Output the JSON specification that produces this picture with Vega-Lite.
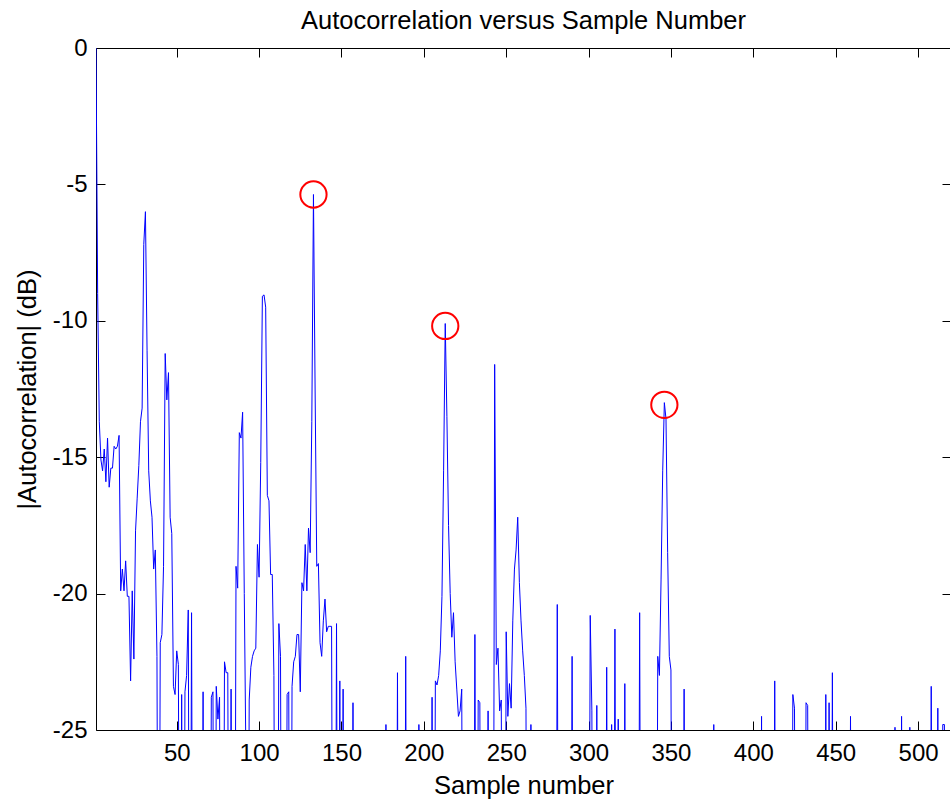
{
"$schema": "https://vega.github.io/schema/vega-lite/v6.json",
"width": 855, "height": 682,
"autosize": "none",
"padding": {"left": 96, "top": 48, "right": 0, "bottom": 71},
"background": "white",
"title": {"text": "Autocorrelation versus Sample Number", "fontSize": 25.5, "font": "Liberation Sans", "fontWeight": "normal", "color": "#000000", "offset": 2},
"config": {"view": {"stroke": null}},
"datasets": {
"series": [
{"n":1,"db":0},{"n":2,"db":-9},{"n":3,"db":-13.7},{"n":4,"db":-15.1},{"n":5,"db":-15.5},{"n":6,"db":-14.7},{"n":7,"db":-15.9},{"n":8,"db":-14.3},{"n":9,"db":-16.1},{"n":10,"db":-15.4},
{"n":11,"db":-15.4},{"n":12,"db":-14.6},{"n":13,"db":-14.7},{"n":14,"db":-14.6},{"n":15,"db":-14.2},{"n":16,"db":-19.9},{"n":17,"db":-19.1},{"n":18,"db":-19.9},{"n":19,"db":-18.8},{"n":20,"db":-20.1},
{"n":21,"db":-20.1},{"n":22,"db":-23.2},{"n":23,"db":-19.9},{"n":24,"db":-22.4},{"n":25,"db":-17.7},{"n":26,"db":-16.5},{"n":27,"db":-15.3},{"n":28,"db":-13.7},{"n":29,"db":-13.2},{"n":30,"db":-7.2},
{"n":31,"db":-6},{"n":32,"db":-11.1},{"n":33,"db":-15.5},{"n":34,"db":-16.6},{"n":35,"db":-17.2},{"n":36,"db":-19.1},{"n":37,"db":-18.4},{"n":38,"db":-22.3},{"n":39,"db":-40},{"n":40,"db":-21.8},
{"n":41,"db":-21.5},{"n":42,"db":-19},{"n":43,"db":-11.2},{"n":44,"db":-12.9},{"n":45,"db":-11.9},{"n":46,"db":-17.2},{"n":47,"db":-17.8},{"n":48,"db":-23.4},{"n":49,"db":-23.7},{"n":50,"db":-22.1},
{"n":51,"db":-22.6},{"n":52,"db":-40},{"n":53,"db":-23.7},{"n":54,"db":-40},{"n":55,"db":-23.6},{"n":56,"db":-23},{"n":57,"db":-20.6},{"n":58,"db":-40},{"n":59,"db":-20.7},{"n":60,"db":-40},
{"n":61,"db":-40},{"n":62,"db":-40},{"n":63,"db":-40},{"n":64,"db":-40},{"n":65,"db":-40},{"n":66,"db":-23.6},{"n":67,"db":-40},{"n":68,"db":-40},{"n":69,"db":-40},{"n":70,"db":-40},
{"n":71,"db":-23.8},{"n":72,"db":-23.6},{"n":73,"db":-40},{"n":74,"db":-23.4},{"n":75,"db":-24.6},{"n":76,"db":-23.8},{"n":77,"db":-40},{"n":78,"db":-40},{"n":79,"db":-22.5},{"n":80,"db":-22.9},
{"n":81,"db":-22.9},{"n":82,"db":-40},{"n":83,"db":-23.5},{"n":84,"db":-40},{"n":85,"db":-40},{"n":86,"db":-19},{"n":87,"db":-19.8},{"n":88,"db":-14.1},{"n":89,"db":-14.3},{"n":90,"db":-13.35},
{"n":91,"db":-20},{"n":92,"db":-26},{"n":93,"db":-40},{"n":94,"db":-23.9},{"n":95,"db":-22.7},{"n":96,"db":-22.3},{"n":97,"db":-22.1},{"n":98,"db":-22},{"n":99,"db":-18.2},{"n":100,"db":-19.4},
{"n":101,"db":-15.2},{"n":102,"db":-9.1},{"n":103,"db":-9.05},{"n":104,"db":-9.5},{"n":105,"db":-16.4},{"n":106,"db":-16.6},{"n":107,"db":-19.3},{"n":108,"db":-19.3},{"n":109,"db":-23},{"n":110,"db":-40},
{"n":111,"db":-40},{"n":112,"db":-21.1},{"n":113,"db":-22.3},{"n":114,"db":-40},{"n":115,"db":-40},{"n":116,"db":-40},{"n":117,"db":-23.7},{"n":118,"db":-23.6},{"n":119,"db":-40},{"n":120,"db":-23.4},
{"n":121,"db":-22.5},{"n":122,"db":-22.3},{"n":123,"db":-21.5},{"n":124,"db":-21.5},{"n":125,"db":-23.6},{"n":126,"db":-19.6},{"n":127,"db":-19.9},{"n":128,"db":-18.2},{"n":129,"db":-19.9},{"n":130,"db":-17.6},
{"n":131,"db":-18.5},{"n":132,"db":-13.7},{"n":133,"db":-5.37},{"n":134,"db":-12.5},{"n":135,"db":-19},{"n":136,"db":-18.9},{"n":137,"db":-21.8},{"n":138,"db":-22.3},{"n":139,"db":-21},{"n":140,"db":-20.2},
{"n":141,"db":-21.4},{"n":142,"db":-21.2},{"n":143,"db":-21.2},{"n":144,"db":-21.2},{"n":145,"db":-40},{"n":146,"db":-40},{"n":147,"db":-21.1},{"n":148,"db":-40},{"n":149,"db":-23.2},{"n":150,"db":-40},
{"n":151,"db":-23.5},{"n":152,"db":-40},{"n":153,"db":-40},{"n":154,"db":-40},{"n":155,"db":-40},{"n":156,"db":-40},{"n":157,"db":-24},{"n":158,"db":-40},{"n":159,"db":-40},{"n":160,"db":-40},
{"n":161,"db":-40},{"n":162,"db":-40},{"n":163,"db":-40},{"n":164,"db":-40},{"n":165,"db":-40},{"n":166,"db":-40},{"n":167,"db":-40},{"n":168,"db":-40},{"n":169,"db":-40},{"n":170,"db":-40},
{"n":171,"db":-40},{"n":172,"db":-40},{"n":173,"db":-40},{"n":174,"db":-40},{"n":175,"db":-40},{"n":176,"db":-40},{"n":177,"db":-24.8},{"n":178,"db":-40},{"n":179,"db":-40},{"n":180,"db":-40},
{"n":181,"db":-40},{"n":182,"db":-40},{"n":183,"db":-40},{"n":184,"db":-22.9},{"n":185,"db":-40},{"n":186,"db":-40},{"n":187,"db":-40},{"n":188,"db":-40},{"n":189,"db":-22.3},{"n":190,"db":-40},
{"n":191,"db":-40},{"n":192,"db":-40},{"n":193,"db":-40},{"n":194,"db":-40},{"n":195,"db":-40},{"n":196,"db":-40},{"n":197,"db":-24.8},{"n":198,"db":-40},{"n":199,"db":-40},{"n":200,"db":-40},
{"n":201,"db":-40},{"n":202,"db":-40},{"n":203,"db":-40},{"n":204,"db":-40},{"n":205,"db":-23.8},{"n":206,"db":-40},{"n":207,"db":-23.2},{"n":208,"db":-23.35},{"n":209,"db":-23},{"n":210,"db":-22.1},
{"n":211,"db":-20.1},{"n":212,"db":-15.5},{"n":213,"db":-10.1},{"n":214,"db":-13.5},{"n":215,"db":-17.5},{"n":216,"db":-20},{"n":217,"db":-21.6},{"n":218,"db":-20.7},{"n":219,"db":-22.5},{"n":220,"db":-23.5},
{"n":221,"db":-24.5},{"n":222,"db":-24.3},{"n":223,"db":-23.5},{"n":224,"db":-40},{"n":225,"db":-40},{"n":226,"db":-40},{"n":227,"db":-40},{"n":228,"db":-40},{"n":229,"db":-40},{"n":230,"db":-40},
{"n":231,"db":-21.5},{"n":232,"db":-40},{"n":233,"db":-23.9},{"n":234,"db":-24},{"n":235,"db":-40},{"n":236,"db":-40},{"n":237,"db":-40},{"n":238,"db":-40},{"n":239,"db":-24.3},{"n":240,"db":-40},
{"n":241,"db":-40},{"n":242,"db":-40},{"n":243,"db":-11.6},{"n":244,"db":-22.6},{"n":245,"db":-22},{"n":246,"db":-24.3},{"n":247,"db":-23.9},{"n":248,"db":-40},{"n":249,"db":-40},{"n":250,"db":-21.4},
{"n":251,"db":-24.5},{"n":252,"db":-23.3},{"n":253,"db":-24.2},{"n":254,"db":-21},{"n":255,"db":-19.1},{"n":256,"db":-18.4},{"n":257,"db":-17.2},{"n":258,"db":-19.6},{"n":259,"db":-21},{"n":260,"db":-22.1},
{"n":261,"db":-23},{"n":262,"db":-24.2},{"n":263,"db":-40},{"n":264,"db":-40},{"n":265,"db":-24.8},{"n":266,"db":-40},{"n":267,"db":-40},{"n":268,"db":-40},{"n":269,"db":-40},{"n":270,"db":-40},
{"n":271,"db":-40},{"n":272,"db":-40},{"n":273,"db":-40},{"n":274,"db":-40},{"n":275,"db":-40},{"n":276,"db":-40},{"n":277,"db":-40},{"n":278,"db":-40},{"n":279,"db":-40},{"n":280,"db":-40},
{"n":281,"db":-20.4},{"n":282,"db":-40},{"n":283,"db":-40},{"n":284,"db":-40},{"n":285,"db":-40},{"n":286,"db":-40},{"n":287,"db":-40},{"n":288,"db":-40},{"n":289,"db":-40},{"n":290,"db":-22.3},
{"n":291,"db":-40},{"n":292,"db":-40},{"n":293,"db":-40},{"n":294,"db":-40},{"n":295,"db":-40},{"n":296,"db":-40},{"n":297,"db":-40},{"n":298,"db":-40},{"n":299,"db":-40},{"n":300,"db":-40},
{"n":301,"db":-20.8},{"n":302,"db":-24.3},{"n":303,"db":-40},{"n":304,"db":-40},{"n":305,"db":-24.1},{"n":306,"db":-40},{"n":307,"db":-40},{"n":308,"db":-40},{"n":309,"db":-40},{"n":310,"db":-40},
{"n":311,"db":-22.7},{"n":312,"db":-40},{"n":313,"db":-40},{"n":314,"db":-24.8},{"n":315,"db":-40},{"n":316,"db":-21.3},{"n":317,"db":-40},{"n":318,"db":-24.6},{"n":319,"db":-40},{"n":320,"db":-40},
{"n":321,"db":-40},{"n":322,"db":-23.3},{"n":323,"db":-40},{"n":324,"db":-40},{"n":325,"db":-40},{"n":326,"db":-40},{"n":327,"db":-40},{"n":328,"db":-40},{"n":329,"db":-40},{"n":330,"db":-40},
{"n":331,"db":-20.7},{"n":332,"db":-40},{"n":333,"db":-40},{"n":334,"db":-40},{"n":335,"db":-40},{"n":336,"db":-40},{"n":337,"db":-40},{"n":338,"db":-40},{"n":339,"db":-40},{"n":340,"db":-40},
{"n":341,"db":-40},{"n":342,"db":-22.3},{"n":343,"db":-23},{"n":344,"db":-19.5},{"n":345,"db":-15.5},{"n":346,"db":-13},{"n":347,"db":-13.6},{"n":348,"db":-18.5},{"n":349,"db":-22.3},{"n":350,"db":-22.8},
{"n":351,"db":-40},{"n":352,"db":-40},{"n":353,"db":-40},{"n":354,"db":-40},{"n":355,"db":-40},{"n":356,"db":-40},{"n":357,"db":-40},{"n":358,"db":-23.5},{"n":359,"db":-40},{"n":360,"db":-40},
{"n":361,"db":-40},{"n":362,"db":-40},{"n":363,"db":-40},{"n":364,"db":-40},{"n":365,"db":-40},{"n":366,"db":-40},{"n":367,"db":-40},{"n":368,"db":-40},{"n":369,"db":-40},{"n":370,"db":-40},
{"n":371,"db":-40},{"n":372,"db":-40},{"n":373,"db":-40},{"n":374,"db":-40},{"n":375,"db":-40},{"n":376,"db":-24.8},{"n":377,"db":-40},{"n":378,"db":-40},{"n":379,"db":-40},{"n":380,"db":-40},
{"n":381,"db":-40},{"n":382,"db":-40},{"n":383,"db":-40},{"n":384,"db":-40},{"n":385,"db":-40},{"n":386,"db":-40},{"n":387,"db":-40},{"n":388,"db":-40},{"n":389,"db":-40},{"n":390,"db":-40},
{"n":391,"db":-40},{"n":392,"db":-40},{"n":393,"db":-40},{"n":394,"db":-40},{"n":395,"db":-40},{"n":396,"db":-40},{"n":397,"db":-40},{"n":398,"db":-40},{"n":399,"db":-40},{"n":400,"db":-40},
{"n":401,"db":-40},{"n":402,"db":-40},{"n":403,"db":-40},{"n":404,"db":-40},{"n":405,"db":-24.5},{"n":406,"db":-40},{"n":407,"db":-40},{"n":408,"db":-40},{"n":409,"db":-40},{"n":410,"db":-40},
{"n":411,"db":-40},{"n":412,"db":-40},{"n":413,"db":-23.2},{"n":414,"db":-40},{"n":415,"db":-40},{"n":416,"db":-40},{"n":417,"db":-40},{"n":418,"db":-40},{"n":419,"db":-40},{"n":420,"db":-40},
{"n":421,"db":-40},{"n":422,"db":-40},{"n":423,"db":-40},{"n":424,"db":-23.7},{"n":425,"db":-24.2},{"n":426,"db":-40},{"n":427,"db":-40},{"n":428,"db":-40},{"n":429,"db":-40},{"n":430,"db":-40},
{"n":431,"db":-40},{"n":432,"db":-24},{"n":433,"db":-24.1},{"n":434,"db":-40},{"n":435,"db":-40},{"n":436,"db":-40},{"n":437,"db":-40},{"n":438,"db":-40},{"n":439,"db":-40},{"n":440,"db":-40},
{"n":441,"db":-40},{"n":442,"db":-40},{"n":443,"db":-40},{"n":444,"db":-23.7},{"n":445,"db":-40},{"n":446,"db":-24},{"n":447,"db":-40},{"n":448,"db":-22.9},{"n":449,"db":-40},{"n":450,"db":-40},
{"n":451,"db":-40},{"n":452,"db":-40},{"n":453,"db":-40},{"n":454,"db":-40},{"n":455,"db":-40},{"n":456,"db":-40},{"n":457,"db":-40},{"n":458,"db":-40},{"n":459,"db":-24.5},{"n":460,"db":-40},
{"n":461,"db":-40},{"n":462,"db":-40},{"n":463,"db":-40},{"n":464,"db":-40},{"n":465,"db":-40},{"n":466,"db":-40},{"n":467,"db":-40},{"n":468,"db":-40},{"n":469,"db":-40},{"n":470,"db":-40},
{"n":471,"db":-40},{"n":472,"db":-40},{"n":473,"db":-40},{"n":474,"db":-40},{"n":475,"db":-40},{"n":476,"db":-40},{"n":477,"db":-40},{"n":478,"db":-40},{"n":479,"db":-40},{"n":480,"db":-40},
{"n":481,"db":-40},{"n":482,"db":-40},{"n":483,"db":-40},{"n":484,"db":-40},{"n":485,"db":-40},{"n":486,"db":-24.9},{"n":487,"db":-40},{"n":488,"db":-40},{"n":489,"db":-40},{"n":490,"db":-24.5},
{"n":491,"db":-40},{"n":492,"db":-40},{"n":493,"db":-40},{"n":494,"db":-40},{"n":495,"db":-24.9},{"n":496,"db":-40},{"n":497,"db":-40},{"n":498,"db":-40},{"n":499,"db":-40},{"n":500,"db":-40},
{"n":501,"db":-40},{"n":502,"db":-40},{"n":503,"db":-40},{"n":504,"db":-40},{"n":505,"db":-40},{"n":506,"db":-40},{"n":507,"db":-40},{"n":508,"db":-23.4},{"n":509,"db":-40},{"n":510,"db":-40},
{"n":511,"db":-40},{"n":512,"db":-24.2},{"n":513,"db":-40},{"n":514,"db":-40},{"n":515,"db":-24.8},{"n":516,"db":-24.8},{"n":517,"db":-40},{"n":518,"db":-40},{"n":519,"db":-40},{"n":520,"db":-40}
],
"peaks": [{"n":133,"db":-5.37},{"n":213,"db":-10.19},{"n":346,"db":-13.08}]
},
"layer": [
{"data": {"name": "series"},
 "mark": {"type": "line", "color": "#0000ff", "strokeWidth": 1, "clip": true, "interpolate": "linear"},
 "encoding": {
  "x": {"field": "n", "type": "quantitative", "scale": {"domain": [1, 520], "nice": false, "zero": false},
   "axis": {"orient": "bottom", "values": [50,100,150,200,250,300,350,400,450,500], "grid": false, "tickSize": -9, "tickColor": "#000000", "tickWidth": 1, "domainColor": "#000000", "domainWidth": 1, "labelFont": "Liberation Sans", "labelFontSize": 24, "labelColor": "#000000", "labelPadding": 20, "labelFlush": false, "labelOverlap": false, "title": "Sample number", "titleFont": "Liberation Sans", "titleFontSize": 25.5, "titleFontWeight": "normal", "titleColor": "#000000", "titlePadding": 8}},
  "y": {"field": "db", "type": "quantitative", "scale": {"domain": [-25, 0], "nice": false, "zero": false},
   "axis": {"orient": "left", "values": [-25,-20,-15,-10,-5,0], "grid": false, "tickSize": -9, "tickColor": "#000000", "tickWidth": 1, "domainColor": "#000000", "domainWidth": 1, "labelFont": "Liberation Sans", "labelFontSize": 24, "labelColor": "#000000", "labelPadding": 18, "labelFlush": false, "labelOverlap": false, "labelExpr": "datum.value < 0 ? '-' + abs(datum.value) : '' + datum.value", "title": "|Autocorrelation| (dB)", "titleFont": "Liberation Sans", "titleFontSize": 25.5, "titleFontWeight": "normal", "titleColor": "#000000", "titlePadding": 12}}
 }},
{"data": {"name": "peaks"},
 "mark": {"type": "point", "shape": "circle", "filled": false, "color": "#ff0000", "strokeWidth": 2, "size": 690, "opacity": 1},
 "encoding": {
  "x": {"field": "n", "type": "quantitative",
   "axis": {"orient": "top", "values": [50,100,150,200,250,300,350,400,450,500], "grid": false, "labels": false, "title": null, "tickSize": -9, "tickColor": "#000000", "tickWidth": 1, "domainColor": "#000000", "domainWidth": 1}},
  "y": {"field": "db", "type": "quantitative",
   "axis": {"orient": "right", "values": [-25,-20,-15,-10,-5,0], "grid": false, "labels": false, "title": null, "tickSize": -9, "tickColor": "#000000", "tickWidth": 1, "domainColor": "#000000", "domainWidth": 1}}
 }}
],
"resolve": {"axis": {"x": "independent", "y": "independent"}}
}
